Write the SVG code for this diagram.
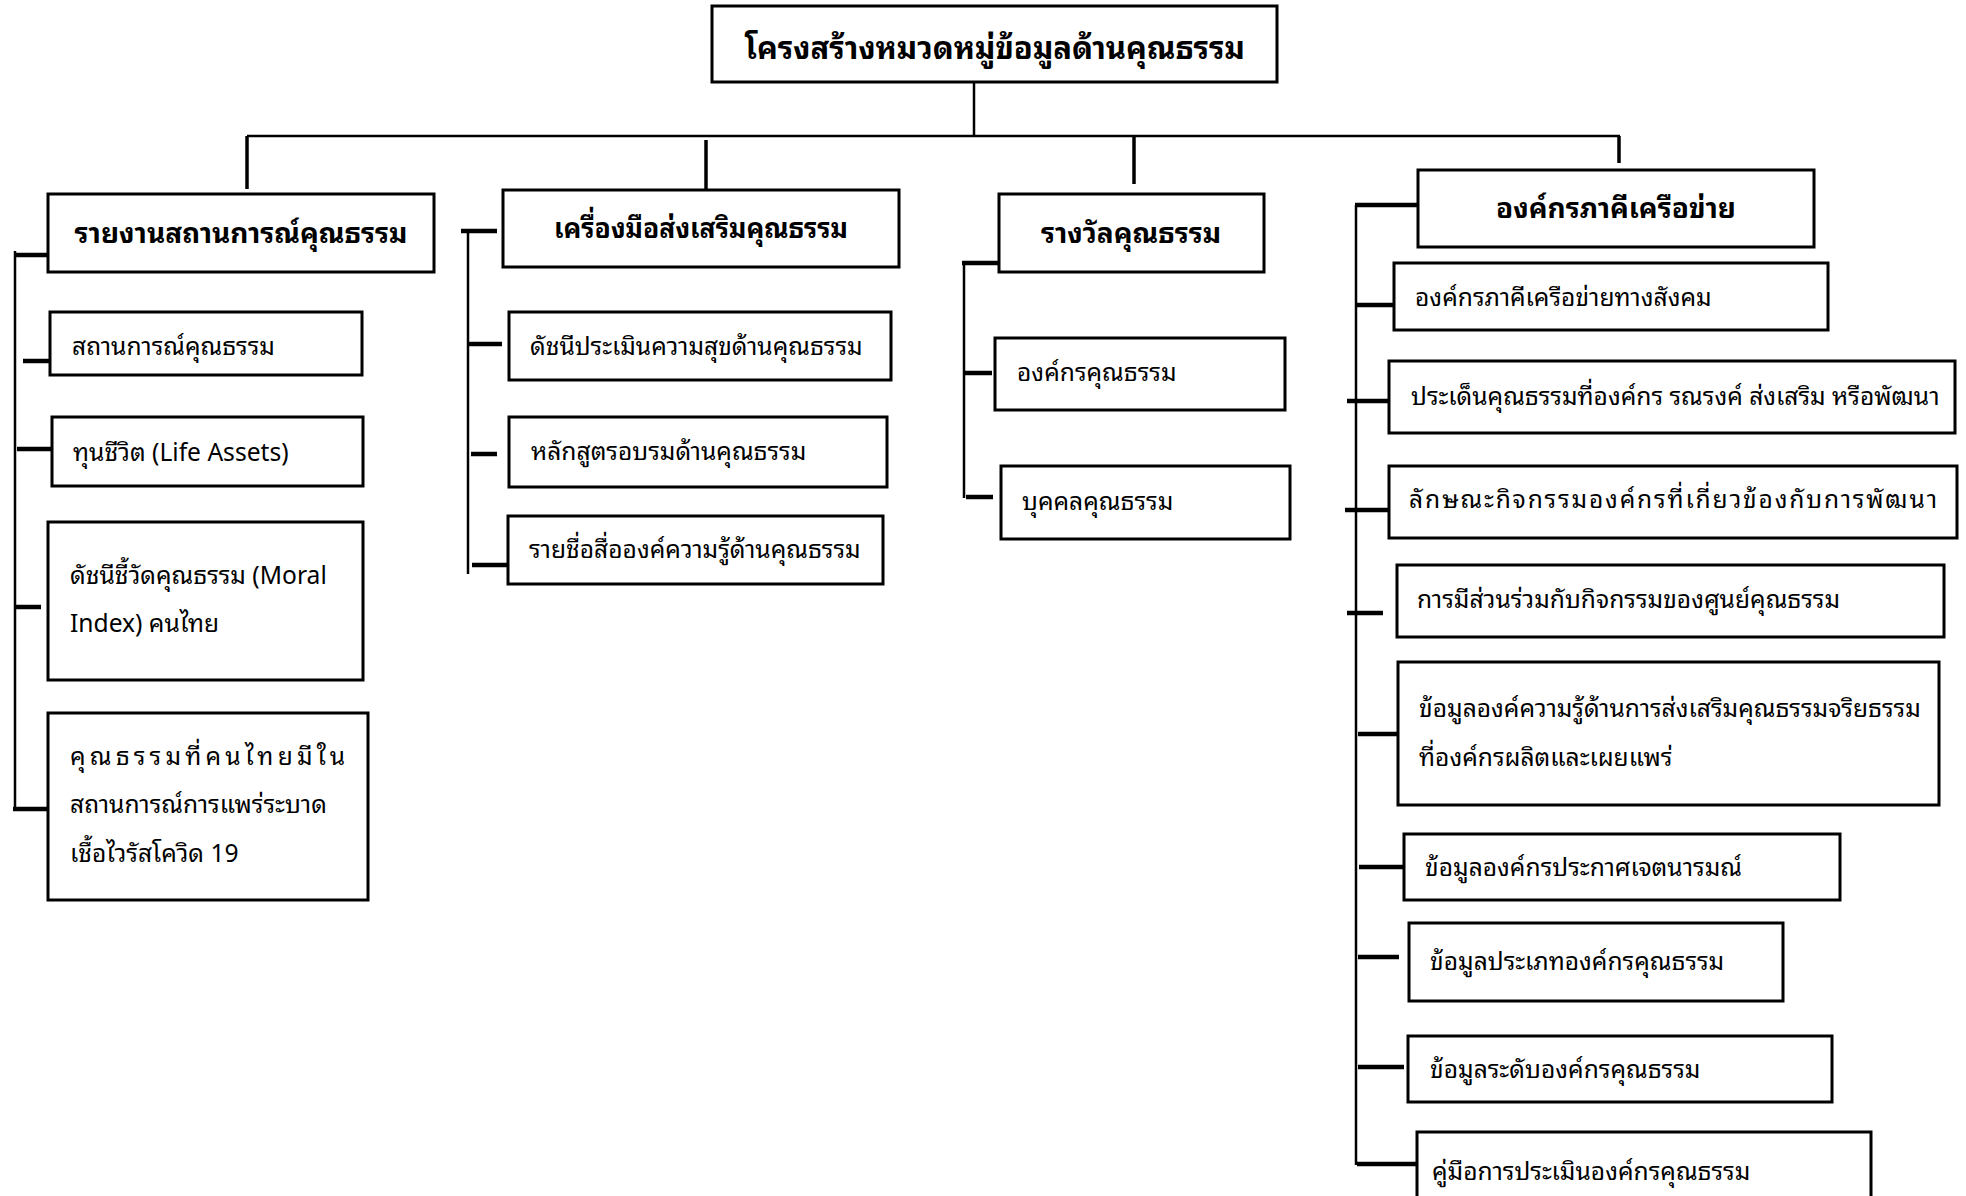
<svg xmlns="http://www.w3.org/2000/svg" width="1966" height="1196" viewBox="0 0 1966 1196">
<style>
.bg{fill:#fff}
.box{fill:#fff;stroke:#000;stroke-width:3}
.ttl,.h,.t{font-family:"Noto Sans Thai Looped","Tahoma","Loma","Garuda","Waree","Noto Sans Thai","Noto Sans","DejaVu Sans",sans-serif;fill:#000}
.ttl{font-weight:bold;font-size:31px;text-anchor:middle}
.h{font-weight:bold;font-size:28px;text-anchor:middle}
.t{font-size:24.6px}
.ln{stroke:#000;stroke-width:2.5;fill:none}
.dr{stroke:#000;stroke-width:3.5;fill:none}
.st{stroke:#000;stroke-width:4.5;fill:none}
</style>
<rect class="bg" x="0" y="0" width="1966" height="1196"/>
<g id="connectors">
<path class="ln" d="M974 82V136"/>
<path class="ln" d="M247 136H1620"/>
<path class="dr" d="M247 136V189"/>
<path class="dr" d="M706 140V194"/>
<path class="dr" d="M1134 136V184"/>
<path class="dr" d="M1619 136V163"/>
<path class="ln" d="M15 251V808"/>
<path class="st" d="M14 255H48"/>
<path class="st" d="M23 361H53"/>
<path class="st" d="M17 449H52"/>
<path class="st" d="M15 607H41"/>
<path class="st" d="M13 809H48"/>
<path class="ln" d="M468 231V574"/>
<path class="st" d="M461 231H497"/>
<path class="st" d="M467 344H502"/>
<path class="st" d="M471 454H497"/>
<path class="st" d="M472 565H507"/>
<path class="ln" d="M964 263V498"/>
<path class="st" d="M962 263H999"/>
<path class="st" d="M964 373H992"/>
<path class="st" d="M966 497H993"/>
<path class="ln" d="M1356 205V1165"/>
<path class="st" d="M1355 205H1418"/>
<path class="st" d="M1356 305H1394"/>
<path class="st" d="M1347 401H1389"/>
<path class="st" d="M1345 510H1389"/>
<path class="st" d="M1347 613H1383"/>
<path class="st" d="M1358 734H1397"/>
<path class="st" d="M1359 867H1404"/>
<path class="st" d="M1358 957H1399"/>
<path class="st" d="M1358 1067H1404"/>
<path class="st" d="M1357 1164H1417"/>
</g>
<g id="title"><rect class="box" x="712" y="6" width="565" height="76"/><text class="ttl" x="995" y="59">โครงสร้างหมวดหมู่ข้อมูลด้านคุณธรรม</text></g>
<g id="h1"><rect class="box" x="48" y="194" width="386" height="78"/><text class="h" x="241" y="243">รายงานสถานการณ์คุณธรรม</text></g>
<g id="h2"><rect class="box" x="503" y="190" width="396" height="77"/><text class="h" x="701" y="238" textLength="294" lengthAdjust="spacingAndGlyphs">เครื่องมือส่งเสริมคุณธรรม</text></g>
<g id="h3"><rect class="box" x="999" y="194" width="265" height="78"/><text class="h" x="1131" y="243">รางวัลคุณธรรม</text></g>
<g id="h4"><rect class="box" x="1418" y="170" width="396" height="77"/><text class="h" x="1616" y="218">องค์กรภาคีเครือข่าย</text></g>
<g id="c1a"><rect class="box" x="50" y="312" width="312" height="63"/><text class="t" x="72" y="355">สถานการณ์คุณธรรม</text></g>
<g id="c1b"><rect class="box" x="52" y="417" width="311" height="69"/><text class="t" x="73" y="461">ทุนชีวิต (Life Assets)</text></g>
<g id="c1c"><rect class="box" x="48" y="522" width="315" height="158"/><text class="t" x="70" y="584">ดัชนีชี้วัดคุณธรรม (Moral</text><text class="t" x="70" y="632">Index) คนไทย</text></g>
<g id="c1d"><rect class="box" x="48" y="713" width="320" height="187"/><text class="t" x="70" y="765" textLength="275" lengthAdjust="spacing">คุณธรรมที่คนไทยมีใน</text><text class="t" x="70" y="813">สถานการณ์การแพร่ระบาด</text><text class="t" x="70" y="862">เชื้อไวรัสโควิด 19</text></g>
<g id="c2a"><rect class="box" x="509" y="312" width="382" height="68"/><text class="t" x="530" y="355">ดัชนีประเมินความสุขด้านคุณธรรม</text></g>
<g id="c2b"><rect class="box" x="509" y="417" width="378" height="70"/><text class="t" x="531" y="460">หลักสูตรอบรมด้านคุณธรรม</text></g>
<g id="c2c"><rect class="box" x="508" y="516" width="375" height="68"/><text class="t" x="529" y="558">รายชื่อสื่อองค์ความรู้ด้านคุณธรรม</text></g>
<g id="c3a"><rect class="box" x="995" y="338" width="290" height="72"/><text class="t" x="1017" y="381">องค์กรคุณธรรม</text></g>
<g id="c3b"><rect class="box" x="1001" y="466" width="289" height="73"/><text class="t" x="1022" y="510">บุคคลคุณธรรม</text></g>
<g id="c4a"><rect class="box" x="1394" y="263" width="434" height="67"/><text class="t" x="1415" y="306">องค์กรภาคีเครือข่ายทางสังคม</text></g>
<g id="c4b"><rect class="box" x="1389" y="361" width="566" height="72"/><text class="t" x="1411" y="405">ประเด็นคุณธรรมที่องค์กร รณรงค์ ส่งเสริม หรือพัฒนา</text></g>
<g id="c4c"><rect class="box" x="1389" y="466" width="568" height="72"/><text class="t" x="1409" y="508" textLength="528" lengthAdjust="spacing">ลักษณะกิจกรรมองค์กรที่เกี่ยวข้องกับการพัฒนา</text></g>
<g id="c4d"><rect class="box" x="1397" y="565" width="547" height="72"/><text class="t" x="1417" y="608">การมีส่วนร่วมกับกิจกรรมของศูนย์คุณธรรม</text></g>
<g id="c4e"><rect class="box" x="1398" y="662" width="541" height="143"/><text class="t" x="1419" y="717">ข้อมูลองค์ความรู้ด้านการส่งเสริมคุณธรรมจริยธรรม</text><text class="t" x="1419" y="766">ที่องค์กรผลิตและเผยแพร่</text></g>
<g id="c4f"><rect class="box" x="1404" y="834" width="436" height="66"/><text class="t" x="1425" y="876">ข้อมูลองค์กรประกาศเจตนารมณ์</text></g>
<g id="c4g"><rect class="box" x="1409" y="923" width="374" height="78"/><text class="t" x="1430" y="970">ข้อมูลประเภทองค์กรคุณธรรม</text></g>
<g id="c4h"><rect class="box" x="1408" y="1036" width="424" height="66"/><text class="t" x="1430" y="1078">ข้อมูลระดับองค์กรคุณธรรม</text></g>
<g id="c4i"><rect class="box" x="1417" y="1132" width="454" height="90"/><text class="t" x="1432" y="1180">คู่มือการประเมินองค์กรคุณธรรม</text></g>
</svg>
